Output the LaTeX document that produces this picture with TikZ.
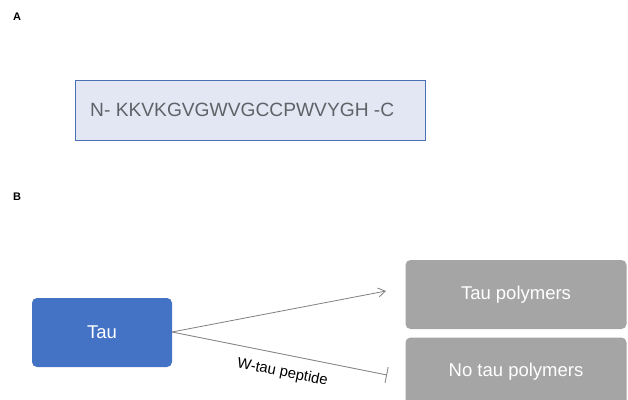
\documentclass[tikz,border=0pt]{standalone}
\usepackage{fontspec}
\setmainfont{Liberation Sans}
\usetikzlibrary{arrows.meta}
\definecolor{taublue}{HTML}{4472C4}
\definecolor{boxgray}{HTML}{A5A5A5}
\definecolor{seqfill}{HTML}{E3E7F3}
\definecolor{seqborder}{HTML}{4A6FB5}
\definecolor{seqtext}{HTML}{5F6368}
\definecolor{linegray}{HTML}{808080}
\tikzset{
  panel/.style={font=\fontsize{11}{13}\selectfont\bfseries, inner sep=0pt},
  rbox/.style={rounded corners=5pt, minimum width=#1, minimum height=69pt, inner sep=0pt, text=white, font=\fontsize{18.5}{22}\selectfont},
  conn/.style={draw=linegray, line width=0.8pt},
}
\begin{document}
\begin{tikzpicture}[x=1pt,y=-1pt]
\useasboundingbox (0,0) rectangle (628,399);
\clip (0,0) rectangle (628,399);
\node[panel] (A) at (17,17) {A};
\node[panel] (B) at (17,197) {B};
\node[draw=seqborder, fill=seqfill, line width=0.9pt, minimum width=350pt, minimum height=60pt, inner sep=0pt] (seq) at (250,110) {};
\node[anchor=west, text=seqtext, font=\fontsize{19.2}{22}\selectfont, inner sep=0pt] (seqtxt) at (90,110) {N- KKVKGVGWVGCCPWVYGH -C};
\node[rbox=140pt, fill=taublue] (tau) at (102,332.5) {Tau};
\node[rbox=221pt, fill=boxgray] (poly) at (516,294.5) {Tau polymers};
\node[rbox=221pt, fill=boxgray] (nopoly) at (516,372) {No tau polymers};
\coordinate (start) at (172,332);
\coordinate (upend) at (386,291);
\coordinate (lowend) at (387,375);
\draw[conn, -{Straight Barb[length=7pt,width=9pt]}] (start) -- (upend);
\draw[conn, -{Bar[width=16pt]}] (start) -- (lowend)
  node[pos=0.53, below=11pt, sloped, inner sep=0pt, text=black, font=\fontsize{14.8}{17}\selectfont] (lab) {W-tau peptide};
\end{tikzpicture}
\end{document}
